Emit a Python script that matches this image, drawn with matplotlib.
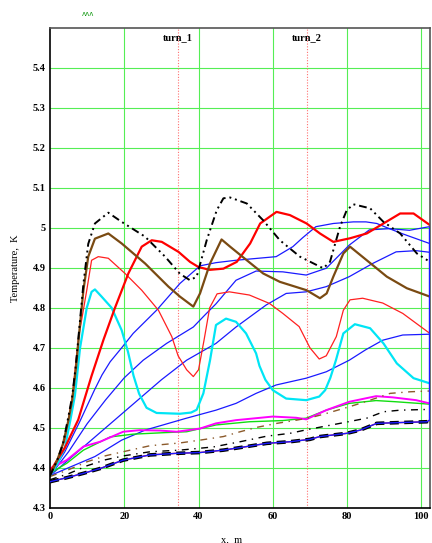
import matplotlib
matplotlib.use('Agg')
import matplotlib.pyplot as plt

# temperature profiles along x
x_bk1 = [0, 2, 3.5, 5, 6, 7, 8, 9, 10.3, 12.1, 15.7, 19.3, 25.6, 31, 35, 37.7, 39.5, 42.2, 44.9,
         46.7, 48.5, 53, 57.4, 61.9, 67.3, 72.7, 73.6, 75.4, 78.1, 79.9, 81.7, 86.2, 89.8, 94.3, 98.8, 102.3]
t_bk1 = [4.38, 4.42, 4.46, 4.53, 4.58, 4.66, 4.76, 4.86, 4.96, 5.011, 5.038, 5.015, 4.978, 4.928, 4.885,
         4.869, 4.878, 4.969, 5.044, 5.074, 5.076, 5.061, 5.019, 4.969, 4.928, 4.903, 4.899, 4.915, 5.003,
         5.044, 5.059, 5.049, 5.015, 4.986, 4.936, 4.915]

x_brown = [0, 2, 3.5, 5, 6, 7, 8, 9, 10.3, 12.1, 15.7, 19.3, 25.6, 31.9, 35, 38.6, 40.4, 43.1, 46.2,
           48.5, 53, 57.4, 61.9, 69.1, 72.7, 74.5, 76.3, 79, 80.8, 85.3, 90.7, 96.1, 102.3]
t_brown = [4.38, 4.42, 4.46, 4.52, 4.57, 4.65, 4.75, 4.844, 4.928, 4.973, 4.986, 4.961, 4.911, 4.853,
           4.828, 4.803, 4.836, 4.911, 4.971, 4.953, 4.919, 4.886, 4.865, 4.844, 4.824, 4.836, 4.878,
           4.936, 4.953, 4.919, 4.878, 4.849, 4.828]

x_red1 = [0, 2, 4, 7.6, 11.2, 14.4, 17.5, 21.1, 24.7, 27.4, 30.1, 34.6, 37.7, 40, 43, 46.7, 50.3,
          53.9, 56.6, 61, 64.6, 69.1, 72.7, 76.3, 80.8, 85.3, 89.8, 94.3, 97.9, 102.3]
t_red1 = [4.39, 4.42, 4.45, 4.52, 4.63, 4.72, 4.80, 4.886, 4.953, 4.969, 4.965, 4.94, 4.915, 4.902,
          4.895, 4.898, 4.915, 4.961, 5.011, 5.04, 5.032, 5.011, 4.986, 4.965, 4.974, 4.986, 5.011,
          5.036, 5.036, 5.007]

x_red2 = [0, 2, 4, 6, 7.6, 9.9, 11.2, 13, 15.7, 20.2, 24.7, 29.2, 32.8, 34.5, 36.8, 38.6, 40, 41.5,
          43, 45, 48.3, 53.7, 59.1, 62.7, 67.1, 70, 72.5, 74.4, 77.1, 79, 80.8, 84.2, 89.6, 95, 102.3]
t_red2 = [4.38, 4.42, 4.47, 4.58, 4.72, 4.844, 4.919, 4.928, 4.924, 4.886, 4.844, 4.794, 4.728, 4.68,
          4.645, 4.628, 4.645, 4.72, 4.80, 4.835, 4.84, 4.832, 4.811, 4.786, 4.753, 4.70, 4.672, 4.68,
          4.728, 4.794, 4.82, 4.824, 4.812, 4.786, 4.736]

x_cyan = [0, 2, 4, 5.5, 6.7, 8.1, 9.9, 11.2, 12.1, 13.9, 16.6, 19.3, 21, 22.5, 24, 26, 28.7, 35, 38,
          39.5, 41.3, 43.1, 44.7, 47.4, 50.1, 52.8, 55.5, 56.4, 58, 60, 63.6, 69, 72.5, 74.1, 75.5, 77,
          79, 82.1, 86.2, 89.8, 93.4, 97.9, 102.3]
t_cyan = [4.38, 4.41, 4.45, 4.52, 4.58, 4.70, 4.80, 4.84, 4.846, 4.828, 4.80, 4.744, 4.69, 4.63, 4.585,
          4.55, 4.537, 4.535, 4.538, 4.545, 4.586, 4.669, 4.757, 4.773, 4.765, 4.736, 4.686, 4.655, 4.62,
          4.594, 4.573, 4.569, 4.578, 4.594, 4.625, 4.669, 4.736, 4.759, 4.749, 4.711, 4.661, 4.624, 4.611]

x_blueA = [0, 4, 8, 12, 14, 16.2, 19.3, 22.4, 28.7, 35, 40.4, 44.7, 50.1, 60.9, 65.4, 68, 71.6, 76.3,
           81.7, 85.1, 88, 91.4, 95, 102.2]
t_blueA = [4.38, 4.44, 4.515, 4.595, 4.632, 4.665, 4.70, 4.736, 4.794, 4.861, 4.905, 4.913, 4.919,
           4.928, 4.953, 4.975, 5.003, 5.011, 5.015, 5.015, 5.011, 4.998, 4.985, 4.961]

x_blueB = [0, 5, 10, 15, 20, 25.1, 31.4, 38.6, 41.5, 44.7, 50.1, 55.5, 62.7, 69, 74.4, 80.6, 86, 91.4,
           96.8, 102.2]
t_blueB = [4.38, 4.44, 4.51, 4.57, 4.625, 4.669, 4.711, 4.752, 4.78, 4.81, 4.869, 4.892, 4.89, 4.882,
           4.899, 4.957, 4.995, 4.998, 4.994, 5.003]

x_blueD = [0, 5, 10, 15, 20, 25, 30, 36.8, 44.7, 50.1, 58.2, 63.6, 69, 74.4, 80.6, 86.9, 93.2, 98.6, 102.2]
t_blueD = [4.38, 4.42, 4.46, 4.50, 4.54, 4.58, 4.62, 4.669, 4.711, 4.752, 4.807, 4.836, 4.84, 4.853,
           4.878, 4.911, 4.94, 4.943, 4.939]

x_blueC = [0, 5, 12.1, 19.3, 25.6, 36.4, 44.7, 50.1, 55.5, 60.9, 69, 74.4, 80.6, 85, 89.6, 95, 102.2]
t_blueC = [4.38, 4.40, 4.428, 4.469, 4.494, 4.523, 4.544, 4.561, 4.586, 4.607, 4.624, 4.64, 4.669,
           4.695, 4.719, 4.732, 4.734]

x_mag = [0, 4.5, 9, 13.5, 19.7, 24.2, 29.6, 34.1, 40.4, 44.7, 50.1, 60, 66.3, 69, 74.4, 80.6, 87.8,
         92.3, 98.6, 102.2]
t_mag = [4.398, 4.419, 4.453, 4.465, 4.49, 4.494, 4.493, 4.49, 4.498, 4.511, 4.519, 4.528, 4.525,
         4.521, 4.544, 4.565, 4.579, 4.576, 4.569, 4.561]

x_green = [0, 4.5, 9, 16.2, 22.4, 31.4, 36.8, 44.7, 53.7, 62.7, 69, 74.4, 80.6, 87.8, 93.2, 102.2]
t_green = [4.386, 4.411, 4.444, 4.477, 4.484, 4.488, 4.49, 4.507, 4.515, 4.518, 4.524, 4.544, 4.561,
           4.568, 4.565, 4.559]

x_brdd = [0, 5, 10, 15, 19.7, 26.9, 35, 40.4, 46.7, 51.2, 55.7, 61.1, 66.4, 70.9, 74.5, 80.8, 86.2,
          91.6, 97, 102.3]
t_brdd = [4.378, 4.395, 4.415, 4.43, 4.44, 4.455, 4.462, 4.469, 4.478, 4.49, 4.501, 4.511, 4.519,
          4.527, 4.536, 4.553, 4.569, 4.586, 4.59, 4.592]

x_bk2 = [0, 5, 10, 15, 20, 27, 35, 44, 51.2, 58.4, 64.6, 69.1, 78.1, 85.3, 89.8, 94.3, 102.3]
t_bk2 = [4.37, 4.385, 4.405, 4.42, 4.43, 4.44, 4.444, 4.452, 4.465, 4.479, 4.486, 4.495, 4.511,
         4.524, 4.54, 4.544, 4.546]

x_low = [0, 4.5, 9, 13.5, 19.7, 26.9, 34.1, 40.4, 46.7, 53, 58.4, 64.6, 70, 72.7, 79.9, 83.5, 88,
         94.3, 101.5, 102.2]
t_low = [4.365, 4.375, 4.386, 4.398, 4.419, 4.432, 4.436, 4.438, 4.444, 4.453, 4.461, 4.465, 4.471,
         4.478, 4.486, 4.494, 4.511, 4.513, 4.515, 4.519]
# the blue copy of the lowest curve jumps up at the end
x_lowb = x_low + [102.2]
t_lowb = t_low + [5.0]

turns = [34.5, 69.2]
turn_names = ['turn_1', 'turn_2']

plt.rcParams['font.family'] = ['Liberation Serif', 'DejaVu Serif']

fig = plt.figure(figsize=(4.32, 5.43), dpi=100)
ax = fig.add_axes([50/432, 1 - 507.7/543, 379.5/432, 479.7/543])

for v in [20, 40, 60, 80, 100]:
    ax.axvline(v, color='#55ee55', lw=0.8, zorder=0)
for h in [4.4, 4.5, 4.6, 4.7, 4.8, 4.9, 5.0, 5.1, 5.2, 5.3, 5.4]:
    ax.axhline(h, color='#55ee55', lw=0.8, zorder=0)

for xt, name in zip(turns, turn_names):
    ax.axvline(xt, color='#ff7070', lw=0.8, ls=(0, (1, 1.5)), zorder=1)
    ax.text(xt, 5.488, name, ha='center', va='top', fontsize=7.5, fontweight='bold')

ax.plot(x_blueC, t_blueC, color='#1a1aff', lw=0.9)
ax.plot(x_blueD, t_blueD, color='#1a1aff', lw=0.9)
ax.plot(x_blueB, t_blueB, color='#1a1aff', lw=0.9)
ax.plot(x_blueA, t_blueA, color='#1a1aff', lw=0.9)
ax.plot(x_green, t_green, color='#11dd11', lw=1.0)
ax.plot(x_mag, t_mag, color='#ff00ff', lw=1.4)
ax.plot(x_brdd, t_brdd, color='#8b5a2b', lw=1.0, ls=(0, (5, 4, 1, 4)))
ax.plot(x_bk2, t_bk2, color='black', lw=1.0, ls=(0, (5, 4, 1, 4)))
ax.plot(x_lowb, t_lowb, color='#1a1aff', lw=1.0, zorder=3)
ax.plot(x_low, t_low, color='#ff2020', lw=1.0)
ax.plot(x_low, t_low, color='black', lw=2.6, ls=(0, (2.5, 1.5)))
ax.plot(x_cyan, t_cyan, color='#00e5f5', lw=1.6)
ax.plot(x_red2, t_red2, color='#ff2020', lw=0.9)
ax.plot(x_red1, t_red1, color='#ff0000', lw=1.6)
ax.plot(x_brown, t_brown, color='#7a4a12', lw=1.6)
ax.plot(x_bk1, t_bk1, color='black', lw=1.4, ls=(0, (4, 2, 1, 2, 1, 2)))

ax.set_xlim(0, 102.2)
ax.set_ylim(4.3, 5.5)
ax.set_xticks([0, 20, 40, 60, 80, 100])
ax.set_yticks([4.3, 4.4, 4.5, 4.6, 4.7, 4.8, 4.9, 5.0, 5.1, 5.2, 5.3, 5.4])
ax.set_yticklabels(['4.3', '4.4', '4.5', '4.6', '4.7', '4.8', '4.9', '5', '5.1', '5.2', '5.3', '5.4'])
ax.tick_params(length=0, labelsize=7.5, pad=3)
for lab in ax.get_xticklabels() + ax.get_yticklabels():
    lab.set_fontweight('bold')

for s in ['left', 'bottom']:
    ax.spines[s].set_color('black')
    ax.spines[s].set_linewidth(1.2)
for s in ['top', 'right']:
    ax.spines[s].set_color('#555555')
    ax.spines[s].set_linewidth(1.2)

fig.text(15/432, 1 - 268/543, 'Temperature,  K', rotation=90, ha='center', va='center', fontsize=7.5)
fig.text(232/432, 1 - 540/543, 'x,  m', ha='center', va='center', fontsize=7.5)
fig.text(88/432, 1 - 14/543, 'ʌʌʌ', ha='center', va='center', fontsize=5, color='#119911',
         family=['DejaVu Sans'])

fig.savefig('out.png', dpi=100)
